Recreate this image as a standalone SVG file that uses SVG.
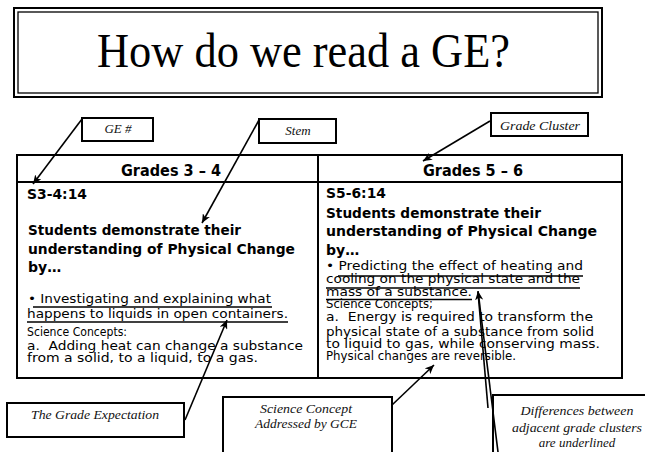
<svg xmlns="http://www.w3.org/2000/svg" width="645" height="452" viewBox="0 0 645 452">
<style>
.bx{fill:#fff;stroke:#000;stroke-width:2}
.ln{fill:none;stroke:#000;stroke-width:1.6}
.ul{stroke:#000;stroke-width:1.6}
.lbl{font-family:"Liberation Serif",serif;font-style:italic;font-size:13px;fill:#111}
.b{font-family:"DejaVu Sans",Verdana,sans-serif;font-weight:bold;font-size:14px;fill:#000}
.h{font-family:"DejaVu Sans",Verdana,sans-serif;font-weight:bold;font-size:15px;fill:#000}
.r{font-family:"DejaVu Sans",Verdana,sans-serif;font-size:13px;fill:#000}
</style>
<defs>
<marker id="ah" markerUnits="userSpaceOnUse" markerWidth="10" markerHeight="8" refX="9" refY="4" orient="auto">
<path d="M0,0 L9,4 L0,8 L2.5,4 Z" fill="#000"/>
</marker>
</defs>
<rect width="645" height="452" fill="#fff"/>

<g id="title">
<rect x="14" y="8" width="588" height="89" fill="none" stroke="#000" stroke-width="2"/>
<rect x="18" y="12" width="580" height="81" fill="none" stroke="#000" stroke-width="1.3"/>
<text x="303.5" y="67" font-family="Liberation Serif,serif" font-size="49" text-anchor="middle" textLength="413" lengthAdjust="spacingAndGlyphs">How do we read a GE?</text>
</g>

<g id="table">
<rect x="17" y="155" width="605" height="223" fill="none" stroke="#000" stroke-width="2"/>
<line x1="17" y1="182" x2="622" y2="182" stroke="#000" stroke-width="2"/>
<line x1="318" y1="155" x2="318" y2="378" stroke="#000" stroke-width="2"/>
<text class="h" x="171" y="176" text-anchor="middle" textLength="100" lengthAdjust="spacingAndGlyphs">Grades 3 – 4</text>
<text class="h" x="473" y="176" text-anchor="middle" textLength="100" lengthAdjust="spacingAndGlyphs">Grades 5 – 6</text>
</g>

<g id="col34">
<text class="b" x="27" y="199" textLength="60" lengthAdjust="spacingAndGlyphs">S3-4:14</text>
<text class="b" x="28" y="235" textLength="213" lengthAdjust="spacingAndGlyphs">Students demonstrate their</text>
<text class="b" x="28" y="254" textLength="267" lengthAdjust="spacingAndGlyphs">understanding of Physical Change</text>
<text class="b" x="28" y="272">by…</text>
<text class="r" x="28" y="303" textLength="243" lengthAdjust="spacingAndGlyphs">• Investigating and explaining what</text>
<line class="ul" x1="33" y1="307" x2="272" y2="307"/>
<text class="r" x="27" y="318" textLength="261" lengthAdjust="spacingAndGlyphs">happens to liquids in open containers.</text>
<line class="ul" x1="27" y1="322" x2="288" y2="322"/>
<text class="r" x="27" y="336" textLength="100" lengthAdjust="spacingAndGlyphs">Science Concepts:</text>
<text class="r" x="27" y="350" textLength="276" lengthAdjust="spacingAndGlyphs" xml:space="preserve">a.  Adding heat can change a substance</text>
<text class="r" x="27" y="362" textLength="231" lengthAdjust="spacingAndGlyphs">from a solid, to a liquid, to a gas.</text>
</g>

<g id="col56">
<text class="b" x="326" y="198" textLength="60" lengthAdjust="spacingAndGlyphs">S5-6:14</text>
<text class="b" x="326" y="218" textLength="215" lengthAdjust="spacingAndGlyphs">Students demonstrate their</text>
<text class="b" x="326" y="236" textLength="271" lengthAdjust="spacingAndGlyphs">understanding of Physical Change</text>
<text class="b" x="326" y="255">by…</text>
<text class="r" x="326" y="270" textLength="257" lengthAdjust="spacingAndGlyphs">• Predicting the effect of heating and</text>
<line class="ul" x1="338" y1="276" x2="583" y2="276"/>
<text class="r" x="326" y="283" textLength="254" lengthAdjust="spacingAndGlyphs">cooling on the physical state and the</text>
<line class="ul" x1="326" y1="288" x2="580" y2="288"/>
<text class="r" x="326" y="296" textLength="146" lengthAdjust="spacingAndGlyphs">mass of a substance.</text>
<line class="ul" x1="326" y1="299.5" x2="472" y2="299.5"/>
<text class="r" x="326" y="308" textLength="107" lengthAdjust="spacingAndGlyphs">Science Concepts;</text>
<text class="r" x="326" y="321" textLength="267" lengthAdjust="spacingAndGlyphs" xml:space="preserve">a.  Energy is required to transform the</text>
<text class="r" x="326" y="336" textLength="268" lengthAdjust="spacingAndGlyphs">physical state of a substance from solid</text>
<text class="r" x="326" y="348" textLength="274" lengthAdjust="spacingAndGlyphs">to liquid to gas, while conserving mass.</text>
<text class="r" x="326" y="360" textLength="190" lengthAdjust="spacingAndGlyphs">Physical changes are reversible.</text>
</g>

<g id="ge-num">
<rect class="bx" x="82" y="118" width="71" height="23"/>
<text class="lbl" x="118" y="133" text-anchor="middle" font-size="12">GE #</text>
</g>
<g id="stem">
<rect class="bx" x="259" y="119" width="77" height="24"/>
<text class="lbl" x="298" y="135" text-anchor="middle" font-size="12">Stem</text>
</g>
<g id="grade-cluster">
<rect class="bx" x="491" y="113" width="97" height="23"/>
<text class="lbl" x="540" y="130" text-anchor="middle" font-size="12" textLength="80" lengthAdjust="spacingAndGlyphs">Grade Cluster</text>
</g>
<g id="grade-expectation">
<rect class="bx" x="7" y="403" width="177" height="34"/>
<text class="lbl" x="95" y="419" text-anchor="middle" textLength="128" lengthAdjust="spacingAndGlyphs">The Grade Expectation</text>
</g>
<g id="science-concept">
<rect class="bx" x="223" y="397" width="169" height="70"/>
<text class="lbl" x="306" y="413" text-anchor="middle" textLength="92" lengthAdjust="spacingAndGlyphs">Science Concept</text>
<text class="lbl" x="306" y="428" text-anchor="middle" textLength="102" lengthAdjust="spacingAndGlyphs">Addressed by GCE</text>
</g>
<g id="differences">
<rect class="bx" x="493" y="395" width="170" height="70"/>
<text class="lbl" x="577" y="415" text-anchor="middle" font-size="14" textLength="113" lengthAdjust="spacingAndGlyphs">Differences between</text>
<text class="lbl" x="577" y="432" text-anchor="middle" font-size="14" textLength="130" lengthAdjust="spacingAndGlyphs">adjacent grade clusters</text>
<text class="lbl" x="577" y="447" text-anchor="middle" font-size="14">are underlined</text>
</g>

<g id="connectors">
<line class="ln" x1="82" y1="119" x2="33" y2="184" marker-end="url(#ah)"/>
<line class="ln" x1="259" y1="120" x2="202" y2="223" marker-end="url(#ah)"/>
<line class="ln" x1="490" y1="121" x2="423" y2="161" marker-end="url(#ah)"/>
<line class="ln" x1="185" y1="420" x2="227" y2="320" marker-end="url(#ah)"/>
<line class="ln" x1="392" y1="405" x2="434" y2="365" stroke-width="2.2" marker-end="url(#ah)"/>
<line class="ln" x1="488" y1="408" x2="478" y2="292"/>
<line class="ln" x1="498" y1="452" x2="478" y2="291" marker-end="url(#ah)"/>
</g>
</svg>
